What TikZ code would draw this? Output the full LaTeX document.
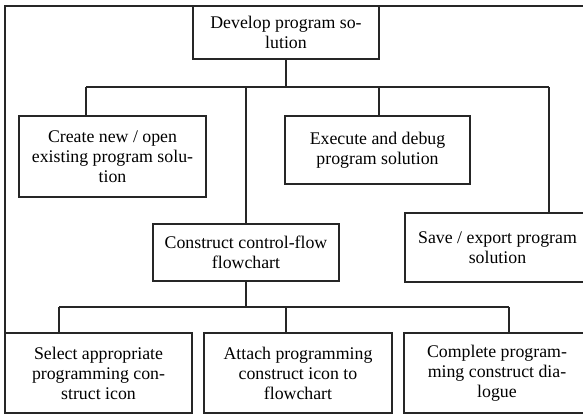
\documentclass[tikz,border=0pt]{standalone}
\usepackage{fontspec}
\setmainfont{Liberation Serif}
\begin{document}
\begin{tikzpicture}[x=1pt,y=-1pt,
  line width=1.2pt, draw=black!85,
  box/.style={draw=black!85, line width=1.2pt, rectangle, inner sep=0pt, align=center,
    font=\fontsize{17.8}{20}\selectfont, text=black},
  conn/.style={draw=black!85, line width=1.2pt}]
\useasboundingbox (0,0) rectangle (583,415);
% outer frame
\draw[conn] (592,6) -- (5,6) -- (5,413);
% top level
\node[box, minimum width=186pt, minimum height=53pt] (root) at (286,32.5) {Develop program so-\\lution};
\node[box, minimum width=187pt, minimum height=81pt] (create) at (112.5,156.5) {Create new / open\\existing program solu-\\tion};
\node[box, minimum width=185pt, minimum height=68pt] (exec) at (377.5,150) {Execute and debug\\program solution};
\node[box, minimum width=185pt, minimum height=69pt] (save) at (497.5,247.5) {Save / export program\\solution};
\node[box, minimum width=186pt, minimum height=57pt] (cons) at (246,252.5) {Construct control-flow\\flowchart};
% bottom level
\node[box, minimum width=187pt, minimum height=80pt] (sel) at (98.5,373) {Select appropriate\\programming con-\\struct icon};
\node[box, minimum width=188pt, minimum height=80pt] (att) at (298,373) {Attach programming\\construct icon to\\flowchart};
\node[box, minimum width=186pt, minimum height=80pt] (comp) at (497,373) {Complete program-\\ming construct dia-\\logue};
% upper bus
\coordinate (bus1) at (0,87);
\coordinate (dC) at (86,87);
\coordinate (dE) at (379,87);
\coordinate (dS) at (549,87);
\draw[conn] (root.south) -- (root.south |- bus1);
\draw[conn] (dC) -- (dS);
\draw[conn] (dC) -- (dC |- create.north);
\draw[conn] (cons.north |- bus1) -- (cons.north);
\draw[conn] (dE) -- (dE |- exec.north);
\draw[conn] (dS) -- (dS |- save.north);
% lower bus
\coordinate (bus2) at (0,307);
\coordinate (d1) at (59,307);
\coordinate (d2) at (286,307);
\coordinate (d3) at (509,307);
\draw[conn] (cons.south) -- (cons.south |- bus2);
\draw[conn] (d1) -- (d3);
\draw[conn] (d1) -- (d1 |- sel.north);
\draw[conn] (d2) -- (d2 |- att.north);
\draw[conn] (d3) -- (d3 |- comp.north);
\end{tikzpicture}
\end{document}
